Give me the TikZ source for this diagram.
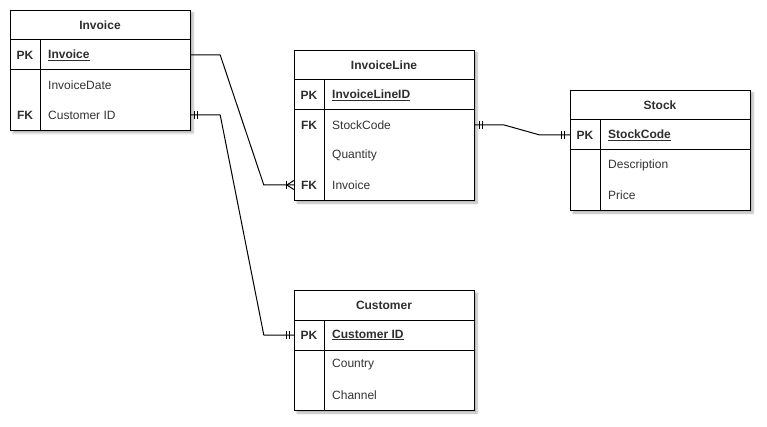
\documentclass[tikz,border=0pt]{standalone}
\usepackage{fontspec}
\setmainfont{Liberation Sans}
\usetikzlibrary{calc,shadows,shadows.blur}
\begin{document}
\begin{tikzpicture}[x=1pt,y=-1pt,
  tbl/.style={draw, line width=1pt, fill=white, minimum width=180pt, inner sep=0pt, anchor=north west,
    blur shadow={shadow xshift=2.5pt, shadow yshift=-2.5pt, shadow opacity=30, shadow blur steps=6}},
  sep/.style={line width=1pt},
  hdr/.style={font=\fontsize{12pt}{14pt}\selectfont\bfseries, text=black!82, inner sep=0pt},
  rowc/.style={minimum width=180pt, minimum height=30pt, inner sep=0pt},
  keyc/.style={font=\fontsize{12pt}{14pt}\selectfont\bfseries, text=black!82, inner sep=0pt},
  namec/.style={font=\fontsize{12pt}{14pt}\selectfont, text=black!80, inner sep=0pt, anchor=west},
  pkname/.style={font=\fontsize{12pt}{14pt}\selectfont\bfseries, text=black!82, inner sep=0pt, anchor=west},
  conn/.style={line width=1pt, line join=round},
  ermark/.style={line width=1pt}
]
\useasboundingbox (0,0) rectangle (767,427);

% ---------- Invoice ----------
\node[tbl, minimum height=120pt] (invT) at (10,10) {};
\draw[sep] (10,40) -- (190,40);
\draw[sep] (10,70) -- (190,70);
\draw[sep] (40,40) -- (40,130);
\node[hdr] (invH) at (100,25) {Invoice};
\node[rowc] (invR1) at (100,55) {};
\node[rowc] (invR2) at (100,85) {};
\node[rowc] (invR3) at (100,115) {};
\node[keyc] (invK1) at (25,55) {PK};
\node[pkname] (invN1) at (48,55) {\underline{Invoice}};
\node[namec] (invN2) at (48,85) {InvoiceDate};
\node[keyc] (invK3) at (25,115) {FK};
\node[namec] (invN3) at (48,115) {Customer ID};

% ---------- InvoiceLine ----------
\node[tbl, minimum height=150pt] (ilT) at (294,50) {};
\draw[sep] (294,80) -- (474,80);
\draw[sep] (294,110) -- (474,110);
\draw[sep] (324,80) -- (324,200);
\node[hdr] (ilH) at (384,65) {InvoiceLine};
\node[rowc] (ilR1) at (384,95) {};
\node[rowc] (ilR2) at (384,125) {};
\node[rowc] (ilR3) at (384,155) {};
\node[rowc] (ilR4) at (384,185) {};
\node[keyc] (ilK1) at (309,95) {PK};
\node[pkname] (ilN1) at (332,95) {\underline{InvoiceLineID}};
\node[keyc] (ilK2) at (309,125) {FK};
\node[namec] (ilN2) at (332,125) {StockCode};
\node[namec] (ilN3) at (332,155) {Quantity};
\node[keyc] (ilK4) at (309,185) {FK};
\node[namec] (ilN4) at (332,185) {Invoice};

% ---------- Stock ----------
\node[tbl, minimum height=120pt] (stT) at (570,90) {};
\draw[sep] (570,120) -- (750,120);
\draw[sep] (570,150) -- (750,150);
\draw[sep] (600,120) -- (600,210);
\node[hdr] (stH) at (660,105) {Stock};
\node[rowc] (stR1) at (660,135) {};
\node[keyc] (stK1) at (585,135) {PK};
\node[pkname] (stN1) at (608,135) {\underline{StockCode}};
\node[namec] (stN2) at (608,165) {Description};
\node[namec] (stN3) at (608,195) {Price};

% ---------- Customer ----------
\node[tbl, minimum height=120pt] (cuT) at (294,290) {};
\draw[sep] (294,320) -- (474,320);
\draw[sep] (294,350) -- (474,350);
\draw[sep] (324,320) -- (324,410);
\node[hdr] (cuH) at (384,305) {Customer};
\node[rowc] (cuR1) at (384,335) {};
\node[keyc] (cuK1) at (309,335) {PK};
\node[pkname] (cuN1) at (332,335) {\underline{Customer ID}};
\node[namec] (cuN2) at (332,365) {Country};
\node[namec] (cuN3) at (332,395) {Channel};

% ---------- Connectors ----------
% Invoice.Invoice -> InvoiceLine.Invoice (one to many)
\draw[conn] (invR1.east) -- ++(30,0) -- ($(ilR4.west)+(-30,0)$) -- (ilR4.west);
\draw[ermark] ($(ilR4.west)+(-7,-4)$) -- ++(0,8);
\draw[ermark] ($(ilR4.west)+(0,-4.5)$) -- ($(ilR4.west)+(-7,0)$) -- ($(ilR4.west)+(0,4.5)$);

% Invoice.CustomerID -> Customer.CustomerID (one to one)
\draw[conn] (invR3.east) -- ++(30,0) -- ($(cuR1.west)+(-30,0)$) -- (cuR1.west);
\draw[ermark] ($(invR3.east)+(4,-4)$) -- ++(0,8);
\draw[ermark] ($(invR3.east)+(7,-4)$) -- ++(0,8);
\draw[ermark] ($(cuR1.west)+(-4,-4)$) -- ++(0,8);
\draw[ermark] ($(cuR1.west)+(-7,-4)$) -- ++(0,8);

% InvoiceLine.StockCode -> Stock.StockCode (one to one)
\draw[conn] (ilR2.east) -- ++(30,0) -- ($(stR1.west)+(-30,0)$) -- (stR1.west);
\draw[ermark] ($(ilR2.east)+(5,-4)$) -- ++(0,8);
\draw[ermark] ($(ilR2.east)+(8,-4)$) -- ++(0,8);
\draw[ermark] ($(stR1.west)+(-5,-4)$) -- ++(0,8);
\draw[ermark] ($(stR1.west)+(-8,-4)$) -- ++(0,8);
\end{tikzpicture}
\end{document}
